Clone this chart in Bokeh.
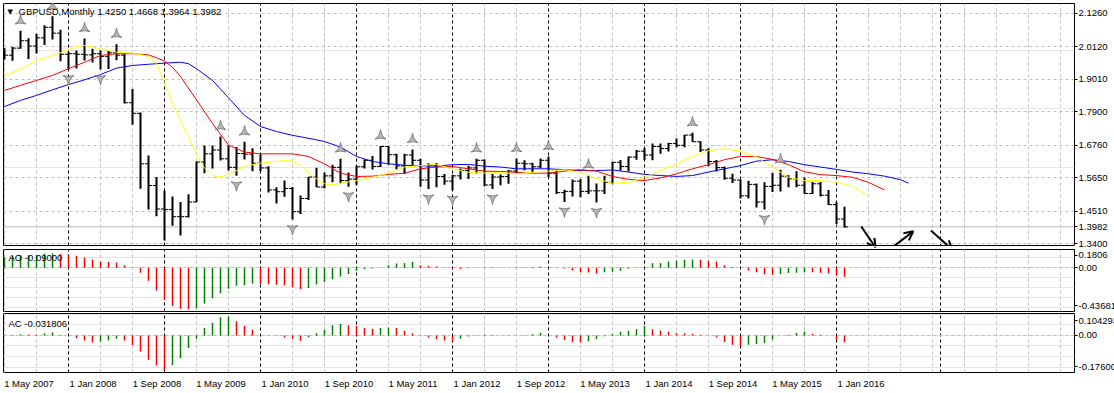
import math
from bokeh.plotting import figure
from bokeh.models import (Range1d, LinearAxis, FixedTicker, Grid, Label, Arrow,
                          OpenHead, Span, PrintfTickFormatter, ColumnDataSource)
from bokeh.layouts import column
from bokeh.embed import file_html
from bokeh.resources import INLINE

# ---------------- data (monthly GBPUSD, bar index 0 = May 2007) ----------------
opens = [1.9870, 1.9830, 2.0070, 2.0320, 2.0140, 2.0420, 2.0780, 2.0580,
         1.9860, 1.9880, 1.9860, 1.9840, 1.9880, 1.9790, 1.9910, 1.9830, 1.8210, 1.7850, 1.6130, 1.5390,
         1.4590, 1.4570, 1.4330, 1.4330, 1.4830, 1.6190, 1.6470, 1.6600, 1.6300, 1.6010, 1.6480, 1.6460,
         1.6150, 1.5990, 1.5240, 1.5180, 1.5290, 1.4500, 1.4950, 1.5680, 1.5340, 1.5720, 1.6010, 1.5560,
         1.5610, 1.6030, 1.6250, 1.6040, 1.6720, 1.6440, 1.6060, 1.6430, 1.6250, 1.5580, 1.6080, 1.5700,
         1.5540, 1.5720, 1.5900, 1.5990, 1.6250, 1.5410, 1.5680, 1.5700, 1.5880, 1.6150, 1.6130, 1.6030,
         1.6250, 1.5810, 1.5150, 1.5190, 1.5540, 1.5190, 1.5210, 1.5210, 1.5500, 1.6180, 1.6040, 1.6360,
         1.6560, 1.6430, 1.6720, 1.6650, 1.6820, 1.6760, 1.7110, 1.6880, 1.6600, 1.6210, 1.6000, 1.5640,
         1.5580, 1.5040, 1.5430, 1.4830, 1.5360, 1.5400, 1.5710, 1.5620, 1.5400, 1.5120, 1.5450, 1.5060,
         1.4740, 1.4250]
highs = [2.0070, 2.0120, 2.0660, 2.0410, 2.0560, 2.0850, 2.1160, 2.0700,
         1.9950, 1.9990, 2.0400, 2.0050, 1.9990, 1.9990, 2.0200, 1.9890, 1.8680, 1.7880, 1.6410, 1.5680,
         1.5200, 1.5020, 1.4830, 1.5090, 1.6210, 1.6750, 1.6750, 1.7060, 1.6750, 1.6700, 1.6880, 1.6660,
         1.6460, 1.6050, 1.5330, 1.5560, 1.5340, 1.5050, 1.5680, 1.6000, 1.5830, 1.6100, 1.6300, 1.5830,
         1.6060, 1.6280, 1.6400, 1.6740, 1.6740, 1.6470, 1.6470, 1.6620, 1.6300, 1.6150, 1.6160, 1.5780,
         1.5760, 1.5970, 1.6060, 1.6300, 1.6280, 1.5780, 1.5770, 1.5920, 1.6310, 1.6250, 1.6170, 1.6310,
         1.6380, 1.5890, 1.5250, 1.5600, 1.5610, 1.5750, 1.5460, 1.5720, 1.6200, 1.6260, 1.6380, 1.6600,
         1.6670, 1.6820, 1.6820, 1.6850, 1.6990, 1.7110, 1.7190, 1.6900, 1.6660, 1.6260, 1.6040, 1.5790,
         1.5590, 1.5550, 1.5460, 1.5500, 1.5820, 1.5930, 1.5740, 1.5880, 1.5660, 1.5510, 1.5510, 1.5240,
         1.4810, 1.4668]
lows = [1.9680, 1.9640, 2.0050, 1.9700, 1.9890, 2.0180, 2.0360, 1.9620,
        1.9340, 1.9380, 1.9650, 1.9580, 1.9340, 1.9360, 1.9660, 1.8180, 1.7460, 1.5280, 1.4570, 1.4340,
        1.3520, 1.4020, 1.3690, 1.4300, 1.4830, 1.5810, 1.5970, 1.6240, 1.5900, 1.5720, 1.6280, 1.5880,
        1.5880, 1.5150, 1.4780, 1.5010, 1.4230, 1.4420, 1.4900, 1.5340, 1.5300, 1.5500, 1.5470, 1.5350,
        1.5420, 1.5970, 1.5940, 1.6020, 1.6100, 1.5940, 1.5780, 1.6090, 1.5350, 1.5270, 1.5330, 1.5420,
        1.5230, 1.5600, 1.5610, 1.5800, 1.5370, 1.5270, 1.5400, 1.5450, 1.5800, 1.5910, 1.5830, 1.5990,
        1.5680, 1.5100, 1.4830, 1.5020, 1.4990, 1.5100, 1.4810, 1.5100, 1.5430, 1.5900, 1.5870, 1.6270,
        1.6260, 1.6250, 1.6470, 1.6550, 1.6690, 1.6690, 1.6880, 1.6530, 1.6050, 1.5870, 1.5590, 1.5480,
        1.4950, 1.4950, 1.4640, 1.4570, 1.5170, 1.5190, 1.5330, 1.5330, 1.5110, 1.5100, 1.5020, 1.4730,
        1.4080, 1.3964]
closes = opens[1:] + [1.3982]

# Alligator lines (read at sampled bar positions, including forward shift)
jaw_idx = [0, 2, 4, 6, 8, 10, 12, 14, 16, 18, 20, 22, 23, 24] + list(range(26, 113, 2)) + [113]
jaw_val = [1.808, 1.829, 1.846, 1.865, 1.883, 1.899, 1.917, 1.939, 1.948, 1.952, 1.956, 1.959, 1.954, 1.937,
           1.897, 1.838, 1.778, 1.740, 1.723, 1.710, 1.700, 1.689, 1.670, 1.638, 1.621, 1.613, 1.608, 1.606,
           1.605, 1.610, 1.611, 1.605, 1.602, 1.596, 1.596, 1.596, 1.593, 1.590, 1.590, 1.592, 1.585, 1.577,
           1.573, 1.570, 1.573, 1.585, 1.596, 1.607, 1.622, 1.627, 1.621, 1.610, 1.602, 1.594, 1.585, 1.579,
           1.571, 1.559, 1.547]
teeth_idx = [0, 2, 4, 6, 8, 10, 12, 14, 16, 18, 19, 20, 21, 22] + list(range(24, 111, 2))
teeth_val = [1.863, 1.880, 1.897, 1.914, 1.937, 1.959, 1.982, 1.988, 1.988, 1.984, 1.974, 1.963, 1.942, 1.910,
             1.831, 1.750, 1.677, 1.653, 1.647, 1.647, 1.647, 1.638, 1.613, 1.581, 1.570, 1.571, 1.577, 1.581,
             1.596, 1.602, 1.604, 1.596, 1.588, 1.587, 1.584, 1.581, 1.581, 1.588, 1.593, 1.588, 1.570, 1.560,
             1.556, 1.565, 1.579, 1.596, 1.610, 1.627, 1.638, 1.638, 1.628, 1.610, 1.586, 1.576, 1.573, 1.567,
             1.550, 1.524]
lips_idx = [0, 2, 4, 6, 8, 9, 10, 12, 14, 16, 18, 19, 20, 21, 22, 23, 24, 25, 26, 27, 28, 30, 32, 34,
            35, 36, 37, 38, 39, 40, 41, 42] + list(range(44, 109, 2))
lips_val = [1.913, 1.935, 1.965, 1.982, 2.001, 2.013, 2.016, 2.005, 1.993, 1.990, 1.979, 1.954, 1.890, 1.820,
            1.761, 1.705, 1.645, 1.598, 1.573, 1.568, 1.576, 1.605, 1.615, 1.622, 1.624, 1.622, 1.607, 1.584,
            1.562, 1.545, 1.541, 1.547, 1.556, 1.567, 1.581, 1.602, 1.607, 1.611, 1.596, 1.584, 1.581, 1.584,
            1.579, 1.584, 1.588, 1.593, 1.584, 1.562, 1.547, 1.550, 1.567, 1.590, 1.613, 1.638, 1.658, 1.664,
            1.656, 1.636, 1.602, 1.567, 1.556, 1.556, 1.550, 1.537, 1.503]

# Fractals (bar indices)
fractal_up = [2, 6, 10, 14, 27, 30, 42, 47, 51, 59, 64, 68, 73, 86, 97]
fractal_down = [8, 12, 20, 29, 36, 43, 53, 56, 61, 70, 74, 95]

# Awesome Oscillator & Accelerator
ao = [0.100, 0.118, 0.122, 0.124, 0.126, 0.138, 0.142, 0.136, 0.130, 0.118, 0.100, 0.080, 0.062, 0.058,
      0.052, 0.024, -0.004, -0.052, -0.130, -0.228, -0.322, -0.382, -0.410, -0.418, -0.404, -0.358,
      -0.306, -0.254, -0.210, -0.180, -0.176, -0.158, -0.162, -0.166, -0.170, -0.178, -0.196, -0.212,
      -0.202, -0.168, -0.143, -0.115, -0.088, -0.064, -0.030, -0.016, -0.008, 0.002, 0.024, 0.040, 0.046,
      0.058, 0.024, 0.020, 0.012, 0.002, -0.008, -0.014, -0.007, -0.003, 0.003, 0.004, 0.002, 0.000,
      0.004, 0.005, 0.007, 0.012, 0.004, 0.002, -0.008, -0.028, -0.045, -0.048, -0.058, -0.047, -0.040,
      -0.030, -0.012, -0.004, 0.003, 0.043, 0.046, 0.061, 0.072, 0.079, 0.081, 0.078, 0.072, 0.061,
      0.025, 0.007, -0.003, -0.028, -0.047, -0.065, -0.072, -0.065, -0.054, -0.050, -0.045, -0.047,
      -0.052, -0.058, -0.078, -0.090]
ac = [-0.002, -0.003, 0.006, 0.004, 0.003, 0.010, 0.014, 0.002, -0.003, -0.013, -0.024, -0.033, -0.030,
      -0.024, -0.016, -0.024, -0.045, -0.076, -0.116, -0.143, -0.164, -0.140, -0.108, -0.060, -0.016,
      0.035, 0.059, 0.086, 0.090, 0.067, 0.046, 0.027, 0.003, 0.001, -0.002, -0.010, -0.016, -0.025,
      -0.008, 0.011, 0.027, 0.048, 0.054, 0.048, 0.046, 0.035, 0.032, 0.035, 0.038, 0.036, 0.022, 0.011,
      -0.002, -0.010, -0.017, -0.024, -0.027, -0.016, -0.005, -0.002, 0.003, 0.002, 0.000, -0.001, 0.000,
      0.001, 0.006, 0.013, 0.000, -0.010, -0.022, -0.031, -0.034, -0.027, -0.017, -0.004, 0.007, 0.017,
      0.021, 0.029, 0.046, 0.029, 0.024, 0.017, 0.012, 0.011, 0.007, 0.003, 0.000, -0.009, -0.031, -0.044,
      -0.053, -0.044, -0.041, -0.036, -0.019, 0.000, 0.003, 0.012, 0.017, 0.007, 0.003, 0.000, -0.022,
      -0.031806]

price_ticks = [2.1260, 2.0120, 1.9010, 1.7900, 1.6760, 1.5650, 1.4510, 1.3400]
date_tick_idx = list(range(0, 105, 8))
date_labels = ["1 May 2007", "1 Jan 2008", "1 Sep 2008", "1 May 2009", "1 Jan 2010", "1 Sep 2010",
               "1 May 2011", "1 Jan 2012", "1 Sep 2012", "1 May 2013", "1 Jan 2014", "1 Sep 2014",
               "1 May 2015", "1 Jan 2016"]
grid_idx = list(range(0, 136, 4))
separator_idx = [8, 20, 32, 44, 56, 68, 80, 92, 104, 117]

# user-drawn trend arrows (bar index, price)
arrow_x0 = [107.1, 111.1, 115.8]
arrow_y0 = [1.3995, 1.3310, 1.3860]
arrow_x1 = [108.9, 113.6, 118.5]
arrow_y1 = [1.3270, 1.3830, 1.3200]

symbol_title = "GBPUSD,Monthly  1.4250 1.4668 1.3964 1.3982"
last_price = 1.3982
ao_top, ao_bottom = 0.1806, -0.43681
ac_top, ac_bottom = 0.104293, -0.17600
main_top, main_bottom = 2.1590, 1.3348

# ---------------- styling ----------------
FONT = "Liberation Sans"
FS = "9.5px"
GREEN = "#008000"
RED = "#ff0000"
X_START, X_END = -0.125, 133.75
FRAME_W = 1071
xr = Range1d(X_START, X_END)
LABEL_SHIFT = 3.0625          # date labels start at their tick (MT4 style)


def panel(frame_h, y0, y1, top, bottom):
    p = figure(frame_width=FRAME_W, frame_height=frame_h, x_range=xr, y_range=Range1d(y0, y1),
               output_backend="svg", toolbar_location=None, x_axis_location=None,
               y_axis_location=None, min_border_left=3, min_border_right=40,
               min_border_top=top, min_border_bottom=bottom)
    p.outline_line_color = "black"
    p.outline_line_width = 1
    p.outline_line_alpha = 1.0
    p.background_fill_color = "white"
    p.border_fill_color = "white"
    p.add_layout(Grid(dimension=0, ticker=FixedTicker(ticks=grid_idx),
                      grid_line_color="#c0c0c0", grid_line_dash="3 3"))
    p.add_layout(Grid(dimension=0, ticker=FixedTicker(ticks=separator_idx),
                      grid_line_color="black", grid_line_dash="3 3"))
    return p


def right_axis(p, ticks, fmt, overrides=None):
    ax = LinearAxis(ticker=FixedTicker(ticks=ticks), formatter=PrintfTickFormatter(format=fmt))
    if overrides:
        ax.major_label_overrides = overrides
    ax.axis_line_color = None
    ax.major_tick_out = 3
    ax.major_tick_in = 0
    ax.major_tick_line_color = "black"
    ax.minor_tick_line_color = None
    ax.major_label_standoff = 1
    ax.major_label_text_font = FONT
    ax.major_label_text_font_size = FS
    ax.major_label_text_color = "black"
    p.add_layout(ax, "right")
    return ax


def inset(top, bottom, frame_h, px_top, px_bottom):
    # positions of the extreme labels, drawn just inside the panel edges (MT4 style)
    per_px = (top - bottom) / frame_h
    return round(top - px_top * per_px, 4), round(bottom + px_bottom * per_px, 4)


# ---------------- main price panel ----------------
MAIN_H = 242
pm = panel(MAIN_H, main_bottom, main_top, 3, 3)
pm.add_layout(Grid(dimension=1, ticker=FixedTicker(ticks=price_ticks),
                   grid_line_color="#c0c0c0", grid_line_dash="3 3"))
right_axis(pm, price_ticks + [last_price], "%.4f")
pm.add_layout(Span(location=last_price, dimension="width", line_color="#c0c0c0",
                   line_width=1, level="underlay"))

idx = list(range(len(opens)))
TICK = 0.45
src = ColumnDataSource(dict(x=idx, o=opens, h=highs, l=lows, c=closes,
                            xl=[i - TICK for i in idx], xr=[i + TICK for i in idx]))
pm.segment(x0="x", y0="l", x1="x", y1="h", source=src, line_color="black", line_width=2)
pm.segment(x0="xl", y0="o", x1="x", y1="o", source=src, line_color="black", line_width=1)
pm.segment(x0="x", y0="c", x1="xr", y1="c", source=src, line_color="black", line_width=1)

pm.line(jaw_idx, jaw_val, line_color="#0000ff", line_width=1)
pm.line(teeth_idx, teeth_val, line_color="#ff0000", line_width=1)
pm.line(lips_idx, lips_val, line_color="#ffff00", line_width=1)

UP_OFF, DN_OFF = 0.034, 0.031
pm.scatter([i for i in fractal_up], [highs[i] + UP_OFF for i in fractal_up],
           marker="triangle_pin", size=11, fill_color="#b8b8b8", line_color="#808080", line_width=1)
pm.scatter([i for i in fractal_down], [lows[i] - DN_OFF for i in fractal_down],
           marker="triangle_pin", size=11, angle=math.pi, fill_color="#b8b8b8",
           line_color="#808080", line_width=1)

for a in range(len(arrow_x0)):
    pm.add_layout(Arrow(end=OpenHead(size=9, line_width=2, line_color="black"),
                        x_start=arrow_x0[a], y_start=arrow_y0[a], x_end=arrow_x1[a], y_end=arrow_y1[a],
                        line_width=2, line_color="black"))

pm.add_layout(Label(x=X_START, y=main_top, x_offset=4, y_offset=-8, text="▼",
                    text_font="DejaVu Sans", text_font_size="7px", text_color="black",
                    text_baseline="middle"))
pm.add_layout(Label(x=X_START, y=main_top, x_offset=15, y_offset=-8, text=symbol_title,
                    text_font=FONT, text_font_size=FS, text_color="black", text_baseline="middle"))

# ---------------- AO panel ----------------
pao = panel(62, ao_bottom, ao_top, 1, 1)
pao.add_layout(Grid(dimension=1, ticker=FixedTicker(ticks=[0]),
                    grid_line_color="#c0c0c0", grid_line_dash="3 3"))
ao_lt, ao_lb = inset(ao_top, ao_bottom, 62, 6, 6)
right_axis(pao, [ao_lt, 0, ao_lb], "%.2f",
           {ao_lt: "0.1806", 0: "0.00", ao_lb: "-0.43681"})
ao_col = [GREEN] + [GREEN if ao[i] > ao[i - 1] else RED for i in range(1, len(ao))]
pao.segment(x0=idx, y0=[0] * len(ao), x1=idx, y1=ao, line_color=ao_col, line_width=1.5)
pao.add_layout(Label(x=X_START, y=ao_top, x_offset=5, y_offset=-8, text="AO -0.09000",
                     text_font=FONT, text_font_size=FS, text_color="black", text_baseline="middle"))

# ---------------- AC panel ----------------
pac = panel(59, ac_bottom, ac_top, 1, 2)
pac.add_layout(Grid(dimension=1, ticker=FixedTicker(ticks=[0]),
                    grid_line_color="#c0c0c0", grid_line_dash="3 3"))
ac_lt, ac_lb = inset(ac_top, ac_bottom, 59, 7.5, 6)
right_axis(pac, [ac_lt, 0, ac_lb], "%.2f",
           {ac_lt: "0.104293", 0: "0.00", ac_lb: "-0.17600"})
ac_col = [RED] + [GREEN if ac[i] > ac[i - 1] else RED for i in range(1, len(ac))]
pac.segment(x0=idx, y0=[0] * len(ac), x1=idx, y1=ac, line_color=ac_col, line_width=1.5)
pac.add_layout(Label(x=X_START, y=ac_top, x_offset=5, y_offset=-10, text="AC -0.031806",
                     text_font=FONT, text_font_size=FS, text_color="black", text_baseline="middle"))

date_label_pos = [t + LABEL_SHIFT for t in date_tick_idx]
xa = LinearAxis(ticker=FixedTicker(ticks=date_label_pos),
                major_label_overrides={t: lab for t, lab in zip(date_label_pos, date_labels)})
xa.axis_line_color = None
xa.major_tick_out = 3
xa.major_tick_in = 0
xa.major_tick_line_color = None
xa.minor_tick_line_color = None
xa.major_label_standoff = 2
xa.major_label_text_font = FONT
xa.major_label_text_font_size = FS
xa.major_label_text_color = "black"
pac.add_layout(xa, "below")

layout = column(pm, pao, pac, spacing=0)
open("out.html", "w").write(file_html(layout, INLINE))
